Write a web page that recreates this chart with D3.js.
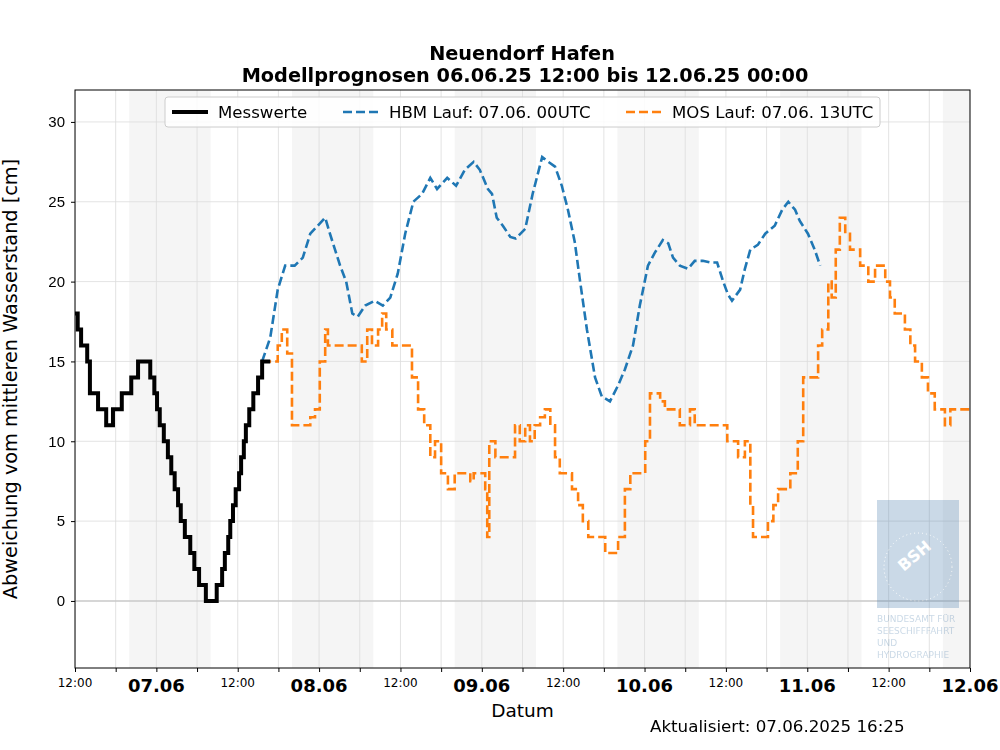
<!DOCTYPE html>
<html><head><meta charset="utf-8">
<script src="https://cdn.jsdelivr.net/npm/d3@7"></script>
<style>body{margin:0;background:#fff}svg{font-family:"DejaVu Sans",sans-serif}</style>
</head><body><svg id="chart" width="1000" height="750"></svg>
<script>
// hours since 06.06.25 12:00, value in cm
const messT = [0,0.4,0.9,1.8,2.2,3.4,4.6,5.6,6.9,8.3,9.3,11.1,11.7,12.1,12.5,13.1,13.7,14.2,14.7,15.2,15.6,16.2,17.0,17.6,18.3,19.3,20.9,21.7,22.1,22.6,22.9,23.3,23.7,24.2,24.5,24.9,25.2,25.7,26.3,27.0,27.6,28.8];
const messV = [18,17,16,15,13,12,11,12,13,14,15,14,13,12,11,10,9,8,7,6,5,4,3,2,1,0,1,2,3,4,5,6,7,8,9,10,11,12,13,14,15,15];
const hbmT = [27.6,28.8,29.9,31.0,32.4,33.6,34.7,35.8,36.9,37.6,39.1,40.0,40.9,41.7,42.8,44.2,45.4,46.5,47.6,48.7,49.9,51.2,52.4,53.4,54.9,56.2,57.5,58.8,59.7,60.9,61.5,62.2,63.1,64.2,65.0,66.4,67.5,68.9,69.8,70.8,71.8,72.7,73.7,74.5,75.5,76.7,77.7,78.9,80.1,81.1,82.3,83.3,84.5,85.5,86.7,87.5,88.2,89.2,90.4,91.4,92.6,93.7,94.7,95.6,96.3,96.9,98.1,98.8,99.6,100.7,101.8,103.2,104.3,105.2,106.2,106.9,108.1,109.1,109.9];
const hbmV = [15,16.5,19.5,21,21,21.5,23,23.5,24,23,21,20,18,17.8,18.5,18.8,18.5,19,20.5,23,25,25.5,26.5,25.8,26.5,26,27,27.5,27,25.8,25.5,24,23.5,22.8,22.7,23.3,25.5,27.8,27.5,27.2,26,24.5,22.5,20,17,14,12.8,12.5,13.5,14.5,16,18.5,21,21.8,22.6,22.4,21.5,21,20.8,21.3,21.3,21.2,21.2,20,19.2,18.8,19.5,20.8,22,22.3,23,23.5,24.5,25,24.5,23.8,23,22,21];
const mosT = [27.6,29.1,29.9,30.5,31.3,32.0,33.2,34.7,35.4,36.1,36.9,37.3,38.3,39.8,42.0,42.3,43.1,43.8,44.7,45.3,45.9,46.8,47.9,48.7,49.7,50.6,51.5,52.4,53.1,54.0,55.0,56.0,57.5,58.3,58.8,59.7,60.5,60.8,61.1,62.0,63.4,64.5,64.9,65.6,66.4,67.1,67.8,68.6,69.3,70.1,70.8,71.5,72.7,73.3,74.2,74.9,75.7,76.7,77.4,78.2,79.2,80.1,81.1,81.9,83.3,84.1,84.8,86.3,87.0,88.5,89.2,90.7,91.4,92.9,95.1,96.2,97.3,97.8,98.8,99.6,100.0,101.5,102.2,103.0,103.7,105.2,105.5,106.6,107.4,108.4,109.6,110.2,111.1,111.6,112.2,112.8,113.6,114.3,115.3,115.8,117.0,118.0,118.7,119.5,120.2,120.9,122.4,123.2,123.9,124.9,125.8,126.8,127.9,128.3,129.1,132];
const mosV = [15,15,16,17,15.5,11,11,11.5,12,15,17,16,16,16,16,15,17,16,17,18,17,16,16,16,14,12,11,9,10,8,7,8,8,7.5,8,8,7,4,10,9,9,9,11,10,11,10,11,11.5,12,11,9,8,8,7,6,5,4,4,4,3,3,4,7,8,8,10,13,12.5,12,12,11,12,11,11,11,10,10,9,10,6,4,4,5,6,7,7,8,10,14,14,16,17,20,19,22,24,23,22,22,21,20,21,21,20,19,18,17,16,15,14,13,12,12,11,12,12];
const nights = [[8,20],[32,44],[56,68],[80,92],[104,116],[128,140]];
const yTicks = [0,5,10,15,20,25,30];
const dayLabels = ["07.06","08.06","09.06","10.06","11.06","12.06"];

const svg = d3.select("#chart");
const L = 75, R = 970, T = 90, B = 668;
const t0 = new Date(2025,5,6,12);
const hr = h => new Date(t0.getTime() + h*3600e3);
const x = d3.scaleTime().domain([hr(0), hr(132)]).range([L, R]);
const y = d3.scaleLinear().domain([-4.2, 32]).range([B, T]);

const g = svg.append("g");
g.append("defs").append("clipPath").attr("id","cp").append("rect").attr("x",L).attr("y",T).attr("width",R-L).attr("height",B-T);
const pl = g.append("g").attr("clip-path","url(#cp)");
pl.selectAll("rect.n").data(nights).join("rect")
  .attr("x", d => x(hr(d[0]))).attr("width", d => x(hr(d[1])) - x(hr(d[0])))
  .attr("y", T).attr("height", B-T).attr("fill", "#f5f5f5");
const sixH = d3.range(0, 133, 6).map(hr);
pl.selectAll("line.vg").data(sixH).join("line")
  .attr("x1", d => x(d)).attr("x2", d => x(d)).attr("y1", T).attr("y2", B)
  .attr("stroke", "#dcdcdc").attr("stroke-width", 0.8);
pl.selectAll("line.hg").data(yTicks).join("line")
  .attr("x1", L).attr("x2", R).attr("y1", d => y(d)).attr("y2", d => y(d))
  .attr("stroke", d => d === 0 ? "#c8c8c8" : "#dcdcdc").attr("stroke-width", d => d === 0 ? 1.5 : 0.8);

// watermark
const wm = pl.append("g").attr("opacity", 0.3);
wm.append("rect").attr("x", 877).attr("y", 500).attr("width", 82).attr("height", 108).attr("fill", "#4f81ad");
wm.append("circle").attr("cx", 918).attr("cy", 567).attr("r", 34).attr("fill", "none").attr("stroke", "#fff").attr("stroke-dasharray", "1,3");
wm.append("text").attr("x", 918).attr("y", 560).attr("text-anchor","middle").attr("font-size",16).attr("font-weight","bold").attr("fill","#fff")
  .attr("transform","rotate(-40,918,560)").text("BSH");
["BUNDESAMT FÜR","SEESCHIFFFAHRT","UND","HYDROGRAPHIE"].forEach((s,i) =>
  wm.append("text").attr("x", 877).attr("y", 622 + i*12).attr("font-size", 9).attr("fill", "#4f81ad").text(s));

const line = (curve) => d3.line().x(d => x(hr(d[0]))).y(d => y(d[1])).curve(curve);
pl.append("path").datum(d3.zip(hbmT, hbmV)).attr("d", line(d3.curveLinear))
  .attr("fill","none").attr("stroke","#1f77b4").attr("stroke-width",2.6).attr("stroke-dasharray","9,4");
pl.append("path").datum(d3.zip(mosT, mosV)).attr("d", line(d3.curveStepAfter))
  .attr("fill","none").attr("stroke","#ff7f0e").attr("stroke-width",2.6).attr("stroke-dasharray","9,4");
pl.append("path").datum(d3.zip(messT, messV)).attr("d", line(d3.curveStepAfter))
  .attr("fill","none").attr("stroke","#000").attr("stroke-width",4);

g.append("rect").attr("x",L).attr("y",T).attr("width",R-L).attr("height",B-T).attr("fill","none").attr("stroke","#000").attr("stroke-width",1);

// axes
const ya = g.append("g").attr("transform",`translate(${L},0)`).call(d3.axisLeft(y).tickValues(yTicks).tickSize(4).tickPadding(6));
ya.select(".domain").remove();
ya.selectAll("text").attr("font-size",15).attr("fill","#000");
const xa = g.append("g").attr("transform",`translate(0,${B})`)
  .call(d3.axisBottom(x).tickValues(sixH).tickSize(4).tickFormat(""));
xa.select(".domain").remove();
const twelves = d3.range(0, 133, 24).map(hr);
g.selectAll("text.tw").data(twelves).join("text").attr("x", d => x(d)).attr("y", B+19)
  .attr("text-anchor","middle").attr("font-size",12).text("12:00");
g.selectAll("text.dl").data(dayLabels).join("text").attr("x", (d,i) => x(hr(12+24*i))).attr("y", B+24)
  .attr("text-anchor","middle").attr("font-size",18).attr("font-weight","bold").text(d => d);

g.append("text").attr("x",(L+R)/2).attr("y",717).attr("text-anchor","middle").attr("font-size",18.5).text("Datum");
g.append("text").attr("transform",`translate(17,${(T+B)/2}) rotate(-90)`).attr("text-anchor","middle").attr("font-size",19.3)
  .text("Abweichung vom mittleren Wasserstand [cm]");
g.append("text").attr("x",522).attr("y",60).attr("text-anchor","middle").attr("font-size",19.3).attr("font-weight","bold").text("Neuendorf Hafen");
g.append("text").attr("x",525).attr("y",82).attr("text-anchor","middle").attr("font-size",19.3).attr("font-weight","bold").text("Modellprognosen 06.06.25 12:00 bis 12.06.25 00:00");
g.append("text").attr("x",650).attr("y",732).attr("font-size",16.7).text("Aktualisiert: 07.06.2025 16:25");

// legend
const lg = g.append("g");
lg.append("rect").attr("x",165).attr("y",97).attr("width",715).attr("height",30).attr("rx",3)
  .attr("fill","#fff").attr("fill-opacity",0.85).attr("stroke","#ccc");
const items = [["Messwerte","#000",null,4,172],["HBM Lauf: 07.06. 00UTC","#1f77b4","9,4",2.6,343],["MOS Lauf: 07.06. 13UTC","#ff7f0e","9,4",2.6,626]];
items.forEach(([lab,c,da,w,x0]) => {
  lg.append("line").attr("x1",x0).attr("x2",x0+36).attr("y1",112).attr("y2",112).attr("stroke",c).attr("stroke-width",w).attr("stroke-dasharray",da);
  lg.append("text").attr("x",x0+46).attr("y",118).attr("font-size",16.6).text(lab);
});
</script></body></html>
